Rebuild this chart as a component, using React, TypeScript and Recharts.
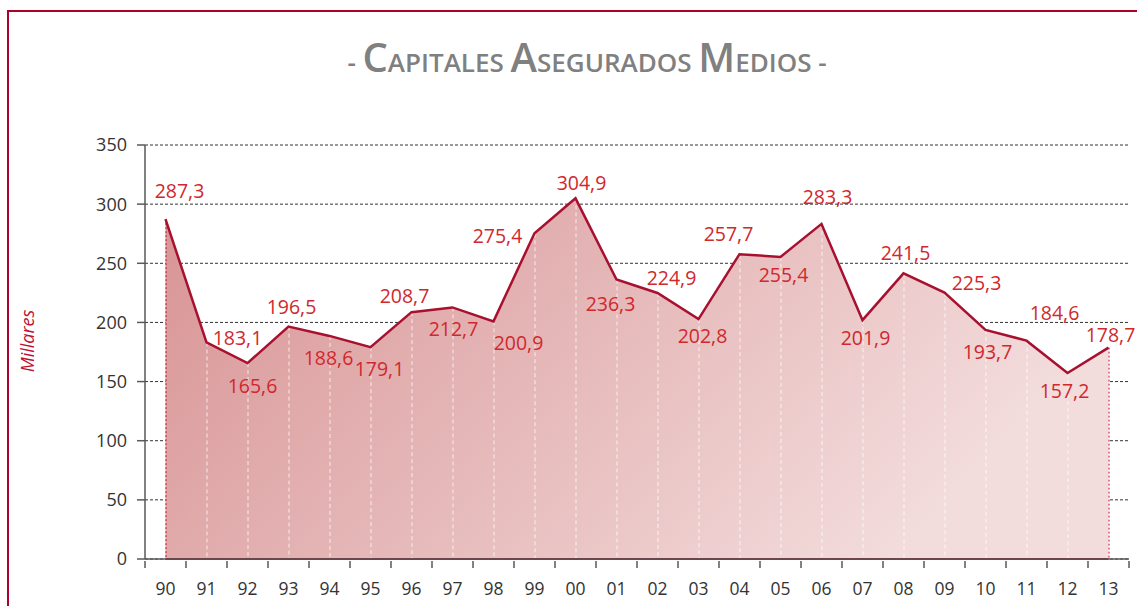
import React from "react"
import { ComposedChart, Area, Line, Bar, XAxis, YAxis, CartesianGrid, LabelList, ReferenceLine } from "recharts"

const years = ["90", "91", "92", "93", "94", "95", "96", "97", "98", "99", "00", "01", "02", "03", "04", "05", "06", "07", "08", "09", "10", "11", "12", "13"]
const capitales = [287.3, 183.1, 165.6, 196.5, 188.6, 179.1, 208.7, 212.7, 200.9, 275.4, 304.9, 236.3, 224.9, 202.8, 257.7, 255.4, 283.3, 201.9, 241.5, 225.3, 193.7, 184.6, 157.2, 178.7]
const yTicks = [0, 50, 100, 150, 200, 250, 300, 350]

const data = years.map((year, i) => ({ year, value: capitales[i] }))

// label offsets from each point (dx, dy), as placed in the original
const labelOffsets: [number, number][] = [
  [14, -29], [31, -5], [5, 22], [3, -20], [-1, 22], [9, 21], [-7, -17], [1, 21],
  [25, 21], [-37, 2], [6, -16], [-6, 24], [14, -15], [4, 16], [-11, -21], [3, 18],
  [6, -27], [3, 17], [2, -21], [32, -10], [2, 22], [28, -28], [-3, 17], [2, -13],
]

const W = 1137
const H = 606
const PLOT_LEFT = 145
const PLOT_RIGHT = 1129
const BAND = (PLOT_RIGHT - PLOT_LEFT) / years.length
const FONT = "'Open Sans', sans-serif"

const fmt = (v: number) => v.toFixed(1).replace(".", ",")

const XTick = (props: any) => {
  const { x, y, payload, index } = props
  const left = x - BAND / 2
  return (
    <g>
      <line x1={left} x2={left} y1={y} y2={y + 7} stroke="#595959" strokeWidth={1.5} />
      {index === years.length - 1 && (
        <line x1={x + BAND / 2} x2={x + BAND / 2} y1={y} y2={y + 7} stroke="#595959" strokeWidth={1.5} />
      )}
      <text x={x} y={y + 27} textAnchor="middle" dominantBaseline="central" fontSize={17.5} fill="#333" fontFamily={FONT}>
        {payload.value}
      </text>
    </g>
  )
}

const DropLine = (props: any) => {
  const { x, y, width, height, index } = props
  const cx = x + width / 2
  const edge = index === 0 || index === years.length - 1
  return (
    <line
      x1={cx}
      x2={cx}
      y1={y}
      y2={y + height}
      stroke={edge ? "#c0102f" : "#ffffff"}
      strokeOpacity={edge ? 1 : 0.75}
      strokeWidth={1}
      strokeDasharray={edge ? "2 2" : "4 3"}
    />
  )
}

const ValueLabel = (props: any) => {
  const { x, y, value, index } = props
  const [dx, dy] = labelOffsets[index]
  return (
    <text x={x + dx} y={y + dy} textAnchor="middle" dominantBaseline="central" fontSize={19.5} fill="#d0282d" fontFamily={FONT}>
      {fmt(value)}
    </text>
  )
}

export default function App() {
  return (
    <div style={{ position: "fixed", left: 0, top: 0, width: W, height: H, overflow: "hidden", background: "#fff" }}>
      <div style={{ position: "absolute", left: 7, top: 10, width: 1200, height: 700, border: "2px solid #b0002a" }} />
      <ComposedChart width={W} height={H} data={data} margin={{ top: 145, right: W - PLOT_RIGHT, bottom: 0, left: PLOT_LEFT - 60 }} style={{ position: "absolute", left: 0, top: 0 }}>
        <defs>
          <linearGradient id="areaFill" x1="0" y1="0" x2="1" y2="0.35">
            <stop offset="0%" stopColor="#d89394" />
            <stop offset="100%" stopColor="#f3dcdc" />
          </linearGradient>
        </defs>
        <CartesianGrid vertical={false} stroke="#333" strokeDasharray="3 2" />
        <XAxis dataKey="year" height={47} tickSize={0} tickLine={false} tick={<XTick />} axisLine={{ stroke: "#595959", strokeWidth: 1.5 }} interval={0} />
        <YAxis
          width={60}
          domain={[0, 350]}
          ticks={yTicks}
          tickSize={8}
          tickMargin={10}
          tick={{ fill: "#333", fontSize: 18, fontFamily: FONT }}
          axisLine={{ stroke: "#595959", strokeWidth: 1.5 }}
          tickLine={{ stroke: "#595959", strokeWidth: 1.5 }}
        />
        <Area dataKey="value" type="linear" stroke="none" fill="url(#areaFill)" fillOpacity={1} isAnimationActive={false} />
        <Bar dataKey="value" barSize={2} shape={<DropLine />} isAnimationActive={false} />
        <ReferenceLine segment={[{ x: years[0], y: 0 }, { x: years[years.length - 1], y: 0 }]} stroke="#a8102f" strokeWidth={2} />
        <Line dataKey="value" type="linear" stroke="#a8102f" strokeWidth={2.5} dot={false} isAnimationActive={false}>
          <LabelList dataKey="value" content={<ValueLabel />} />
        </Line>
      </ComposedChart>
      <svg width={W} height={H} style={{ position: "absolute", left: 0, top: 0, pointerEvents: "none" }}>
        <text x={587} y={72} textAnchor="middle" fill="#808080" fontFamily={FONT} fontWeight={600}>
          <tspan fontSize={26}>- </tspan>
          <tspan fontSize={40}>C</tspan>
          <tspan fontSize={26}>APITALES </tspan>
          <tspan fontSize={40}>A</tspan>
          <tspan fontSize={26}>SEGURADOS </tspan>
          <tspan fontSize={40}>M</tspan>
          <tspan fontSize={26}>EDIOS -</tspan>
        </text>
        <text x={0} y={0} transform="translate(34 341) rotate(-90)" textAnchor="middle" fill="#c0102f" fontFamily={FONT} fontStyle="italic" fontSize={18}>
          Millares
        </text>
      </svg>
    </div>
  )
}
